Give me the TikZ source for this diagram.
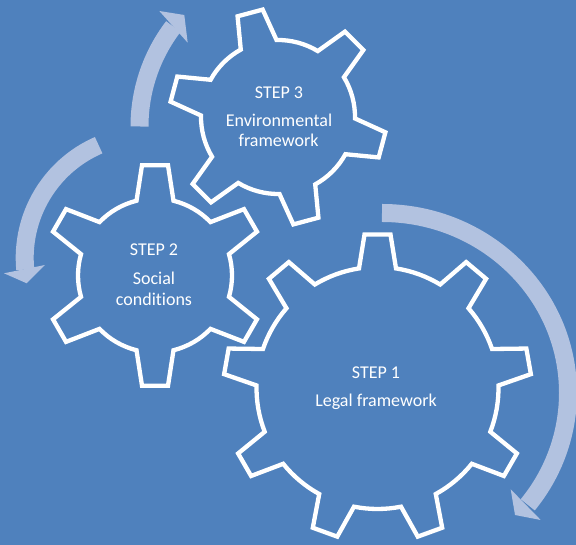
\documentclass[tikz,border=0pt]{standalone}
\usepackage{fontspec}
\setmainfont{Carlito}[Ligatures={NoCommon}]
\definecolor{bgblue}{RGB}{79,129,189}
\definecolor{arrowcol}{RGB}{178,194,224}
\tikzset{
  gear/.style={draw=white, fill=bgblue, line width=4.3pt, line join=miter},
  shaft/.style={draw=arrowcol, line width=18pt, line cap=butt},
  headtri/.style={fill=arrowcol},
  label/.style={text=white, font=\fontsize{18}{20}\selectfont, anchor=base, inner sep=0pt}
}
\newcommand{\drawgear}[6]{%
  \pgfmathsetmacro\gst{360/#3}%
  \pgfmathsetmacro\gat{asin(13/#5)}%
  \pgfmathsetmacro\gab{asin(18.5/#6)}%
  \pgfmathtruncatemacro\gN{#3-1}%
  \begin{scope}[shift={(#1pt,#2pt)}]
    \draw[gear] ({#4-\gab}:#6pt) \foreach \k in {0,...,\gN}{
      -- ({#4+\k*\gst-\gat}:#5pt) -- ({#4+\k*\gst+\gat}:#5pt) -- ({#4+\k*\gst+\gab}:#6pt)
      arc[start angle={#4+\k*\gst+\gab}, end angle={#4+(\k+1)*\gst-\gab}, radius=#6pt]
    } -- cycle;
  \end{scope}}
\begin{document}
\begin{tikzpicture}[x=1pt,y=1pt]
  \fill[bgblue] (0,0) rectangle (576,545);
  \useasboundingbox (0,0) rectangle (576,545);

  % gears
  \drawgear{377.5}{157}{9}{90}{154}{121}
  \drawgear{155}{269.5}{6}{90}{111}{77}
  \drawgear{278}{428}{6}{45}{108.5}{77}

  % arrow A (up, near step 3)
  \coordinate (aS) at (139.5,418.5);
  \coordinate (aL) at (159.3,534);
  \coordinate (aR) at (187.7,502.3);
  \coordinate (aT) at (184.3,530);
  \draw[shaft] (aS) arc[start angle=180, end angle=142.6, radius=164.5pt];
  \fill[headtri] (aL) -- (aT) -- (aR) -- cycle;

  % arrow B (down-left, near step 2)
  \coordinate (bS) at (98.65,399.8);
  \coordinate (bL) at (4,271.7);
  \coordinate (bR) at (45,280);
  \coordinate (bT) at (26.7,261.7);
  \draw[shaft] (bS) arc[start angle=113.5, end angle=185.4, radius=123pt];
  \fill[headtri] (bL) -- (bT) -- (bR) -- cycle;

  % arrow C (right, around step 1)
  \coordinate (cS) at (382,332);
  \coordinate (cL) at (510.7,55.7);
  \coordinate (cR) at (540.7,25);
  \coordinate (cT) at (515,30);
  \draw[shaft] (cS) arc[start angle=90, end angle=-38.4, x radius=186pt, y radius=180pt];
  \fill[headtri] (cL) -- (cT) -- (cR) -- cycle;

  % texts
  \node[label] (g3a) at (279,446.7) {STEP 3};
  \node[label] (g3b) at (279,418) {Environmental};
  \node[label] (g3c) at (278.5,398.3) {framework};
  \node[label] (g2a) at (154,289) {STEP 2};
  \node[label] (g2b) at (154,260.7) {Social};
  \node[label] (g2c) at (154,239.7) {conditions};
  \node[label] (g1a) at (376,166.7) {STEP 1};
  \node[label] (g1b) at (376,138) {Legal framework};
\end{tikzpicture}
\end{document}
